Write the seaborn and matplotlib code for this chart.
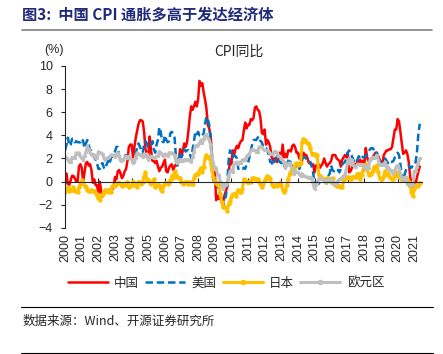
import numpy as np
import pandas as pd
import seaborn as sns
import matplotlib.pyplot as plt

# monthly CPI yoy, Jan 2000 - May 2021 (%)
china = [
    -0.2, 0.7, -0.2, -0.3, 0.1, 0.5, 0.5, 0.3, 0.0, 0.0, 1.3, 1.5,
    1.2, 0.0, 0.8, 1.6, 1.7, 1.4, 1.5, 1.0, -0.1, 0.2, -0.3, -0.3,
    -1.0, 0.0, -0.8, -1.3, -1.1, -0.8, -0.9, -0.7, -0.7, -0.8, -0.7, -0.4,
    0.4, 0.2, 0.9, 1.0, 0.7, 0.3, 0.5, 0.9, 1.1, 1.8, 3.0, 3.2,
    3.2, 2.1, 3.0, 3.8, 4.4, 5.0, 5.3, 5.3, 5.2, 4.3, 2.8, 2.4,
    1.9, 3.9, 2.7, 1.8, 1.8, 1.6, 1.8, 1.3, 0.9, 1.2, 1.3, 1.6,
    1.9, 0.9, 0.8, 1.2, 1.4, 1.5, 1.0, 1.3, 1.5, 1.4, 1.9, 2.8,
    2.2, 2.7, 3.3, 3.0, 3.4, 4.4, 5.6, 6.5, 6.2, 6.5, 6.9, 6.5,
    7.1, 8.7, 8.3, 8.5, 7.7, 7.1, 6.3, 4.9, 4.6, 4.0, 2.4, 1.2,
    1.0, -1.6, -1.2, -1.5, -1.4, -1.7, -1.8, -1.2, -0.8, -0.5, 0.6, 1.9,
    1.5, 2.7, 2.4, 2.8, 3.1, 2.9, 3.3, 3.5, 3.6, 4.4, 5.1, 4.6,
    4.9, 4.9, 5.4, 5.3, 5.5, 6.4, 6.5, 6.2, 6.1, 5.5, 4.2, 4.1,
    4.5, 3.2, 3.6, 3.4, 3.0, 2.2, 1.8, 2.0, 1.9, 1.7, 2.0, 2.5,
    2.0, 3.2, 2.1, 2.4, 2.1, 2.7, 2.7, 2.6, 3.1, 3.2, 3.0, 2.5,
    2.5, 2.0, 2.4, 1.8, 2.5, 2.3, 2.3, 2.0, 1.6, 1.6, 1.4, 1.5,
    0.8, 1.4, 1.4, 1.5, 1.2, 1.4, 1.6, 2.0, 1.6, 1.3, 1.5, 1.6,
    1.8, 2.3, 2.3, 2.3, 2.0, 1.9, 1.8, 1.3, 1.9, 2.1, 2.3, 2.1,
    2.5, 0.8, 0.9, 1.2, 1.5, 1.5, 1.4, 1.8, 1.6, 1.9, 1.7, 1.8,
    1.5, 2.9, 2.1, 1.8, 1.8, 1.9, 2.1, 2.3, 2.5, 2.5, 2.2, 1.9,
    1.7, 1.5, 2.3, 2.5, 2.7, 2.7, 2.8, 2.8, 3.0, 3.8, 4.5, 4.5,
    5.4, 5.2, 4.3, 3.3, 2.4, 2.5, 2.7, 2.4, 1.7, 0.5, -0.5, 0.2,
    -0.3, -0.2, 0.4, 0.9, 1.3,
]
usa = [
    2.7, 3.2, 3.8, 3.1, 3.2, 3.7, 3.7, 3.4, 3.5, 3.4, 3.4, 3.4,
    3.7, 3.5, 2.9, 3.3, 3.6, 3.2, 2.7, 2.7, 2.6, 2.1, 1.9, 1.6,
    1.1, 1.1, 1.5, 1.6, 1.2, 1.1, 1.5, 1.8, 1.5, 2.0, 2.2, 2.4,
    2.6, 3.0, 3.0, 2.2, 2.1, 2.1, 2.1, 2.2, 2.3, 2.0, 1.8, 1.9,
    1.9, 1.7, 1.7, 2.3, 3.1, 3.3, 3.0, 2.7, 2.5, 3.2, 3.5, 3.3,
    3.0, 3.0, 3.1, 3.5, 2.8, 2.5, 3.2, 3.6, 4.7, 4.3, 3.5, 3.4,
    4.0, 3.6, 3.4, 3.5, 4.2, 4.3, 4.1, 3.8, 2.1, 1.3, 2.0, 2.5,
    2.1, 2.4, 2.8, 2.6, 2.7, 2.7, 2.4, 2.0, 2.8, 3.5, 4.3, 4.1,
    4.3, 4.0, 4.0, 3.9, 4.2, 5.0, 5.6, 5.4, 4.9, 3.7, 1.1, 0.1,
    0.0, 0.2, -0.4, -0.7, -1.3, -1.4, -2.1, -1.5, -1.3, -0.2, 1.8, 2.7,
    2.6, 2.1, 2.3, 2.2, 2.0, 1.1, 1.2, 1.1, 1.1, 1.2, 1.1, 1.5,
    1.6, 2.1, 2.7, 3.2, 3.6, 3.6, 3.6, 3.8, 3.9, 3.5, 3.4, 3.0,
    2.9, 2.9, 2.7, 2.3, 1.7, 1.7, 1.4, 1.7, 2.0, 2.2, 1.8, 1.7,
    1.6, 2.0, 1.5, 1.1, 1.4, 1.8, 2.0, 1.5, 1.2, 1.0, 1.2, 1.5,
    1.6, 1.1, 1.5, 2.0, 2.1, 2.1, 2.0, 1.7, 1.7, 1.7, 1.3, 0.8,
    -0.1, 0.0, -0.1, -0.2, 0.0, 0.1, 0.2, 0.2, 0.0, 0.2, 0.5, 0.7,
    1.4, 1.0, 0.9, 1.1, 1.0, 1.0, 0.8, 1.1, 1.5, 1.6, 1.7, 2.1,
    2.5, 2.7, 2.4, 2.2, 1.9, 1.6, 1.7, 1.9, 2.2, 2.0, 2.2, 2.1,
    2.1, 2.2, 2.4, 2.5, 2.8, 2.9, 2.9, 2.7, 2.3, 2.5, 2.2, 1.9,
    1.6, 1.5, 1.9, 2.0, 1.8, 1.6, 1.8, 1.7, 1.7, 1.8, 2.1, 2.3,
    2.5, 2.3, 1.5, 0.3, 0.1, 0.6, 1.0, 1.3, 1.4, 1.2, 1.2, 1.4,
    1.4, 1.7, 2.6, 4.2, 5.0,
]
japan = [
    -0.9, -0.6, -0.5, -0.8, -0.7, -0.7, -0.5, -0.8, -0.8, -0.9, -0.5, -0.2,
    0.1, -0.1, -0.4, -0.5, -0.7, -0.8, -0.8, -0.7, -0.8, -0.8, -1.0, -1.2,
    -1.4, -1.6, -1.2, -1.1, -0.9, -0.7, -0.8, -0.9, -0.7, -0.9, -0.4, -0.3,
    -0.4, -0.2, -0.1, -0.1, -0.2, -0.4, -0.2, -0.3, -0.2, 0.0, -0.5, -0.4,
    -0.3, 0.0, -0.1, -0.4, -0.5, 0.0, -0.1, -0.2, 0.0, 0.5, 0.8, 0.2,
    0.1, -0.1, -0.2, 0.0, 0.2, -0.5, -0.3, -0.3, -0.3, -0.7, -0.8, -0.4,
    -0.1, -0.1, -0.2, -0.1, 0.1, 0.5, 0.3, 0.9, 0.6, 0.4, 0.3, 0.3,
    0.0, -0.2, -0.1, 0.0, 0.0, -0.2, 0.0, -0.2, -0.2, 0.3, 0.6, 0.7,
    0.7, 1.0, 1.2, 0.8, 1.3, 2.0, 2.3, 2.1, 2.1, 1.7, 1.0, 0.4,
    0.0, -0.1, -0.3, -0.1, -1.1, -1.8, -2.2, -2.2, -2.2, -2.5, -1.9, -1.7,
    -1.3, -1.1, -1.1, -1.2, -0.9, -0.7, -0.9, -0.9, -0.6, 0.2, 0.1, 0.0,
    0.0, 0.0, 0.0, 0.3, 0.3, 0.2, 0.2, 0.2, 0.0, -0.2, -0.5, -0.2,
    0.1, 0.3, 0.5, 0.4, 0.2, -0.2, -0.4, -0.4, -0.3, -0.4, -0.2, -0.1,
    -0.3, -0.7, -0.9, -0.7, -0.3, 0.2, 0.7, 0.9, 1.1, 1.1, 1.5, 1.6,
    1.4, 1.5, 1.6, 3.4, 3.7, 3.6, 3.4, 3.3, 3.2, 2.9, 2.4, 2.4,
    2.4, 2.2, 2.3, 0.6, 0.5, 0.4, 0.2, 0.2, 0.0, 0.3, 0.3, 0.2,
    0.0, 0.3, -0.1, -0.3, -0.4, -0.4, -0.4, -0.5, -0.5, 0.1, 0.5, 0.3,
    0.4, 0.3, 0.2, 0.4, 0.4, 0.4, 0.4, 0.7, 0.7, 0.2, 0.6, 1.0,
    1.4, 1.5, 1.1, 0.6, 0.7, 0.7, 0.9, 1.3, 1.2, 1.4, 0.8, 0.3,
    0.2, 0.2, 0.5, 0.9, 0.7, 0.7, 0.5, 0.3, 0.2, 0.2, 0.5, 0.8,
    0.7, 0.4, 0.4, 0.1, 0.1, 0.1, 0.3, 0.2, 0.0, -0.4, -0.9, -1.2,
    -0.6, -0.4, -0.2, -0.4, -0.1,
]
euro = [
    2.2, 2.0, 1.9, 1.7, 1.7, 2.1, 2.0, 2.0, 2.5, 2.4, 2.5, 2.2,
    2.0, 1.9, 2.2, 2.6, 3.1, 2.8, 2.5, 2.4, 2.2, 2.3, 2.0, 2.0,
    2.6, 2.5, 2.5, 2.4, 2.0, 1.9, 2.0, 2.1, 2.1, 2.3, 2.3, 2.3,
    2.1, 2.4, 2.5, 2.1, 1.8, 1.9, 1.9, 2.1, 2.2, 2.0, 2.2, 2.0,
    1.9, 1.6, 1.7, 2.0, 2.5, 2.4, 2.3, 2.3, 2.1, 2.4, 2.2, 2.4,
    1.9, 2.1, 2.2, 2.1, 2.0, 2.1, 2.2, 2.2, 2.6, 2.5, 2.3, 2.2,
    2.4, 2.3, 2.2, 2.5, 2.5, 2.5, 2.4, 2.3, 1.7, 1.6, 1.9, 1.9,
    1.8, 1.8, 1.9, 1.9, 1.9, 1.9, 1.8, 1.7, 2.1, 2.6, 3.1, 3.1,
    3.2, 3.3, 3.6, 3.3, 3.7, 4.0, 4.1, 3.8, 3.6, 3.2, 2.1, 1.6,
    1.1, 1.2, 0.6, 0.6, 0.0, -0.1, -0.6, -0.2, -0.3, -0.1, 0.5, 0.9,
    1.0, 0.8, 1.6, 1.6, 1.7, 1.5, 1.7, 1.6, 1.9, 1.9, 1.9, 2.2,
    2.3, 2.4, 2.7, 2.8, 2.7, 2.7, 2.6, 2.6, 3.0, 3.0, 3.0, 2.8,
    2.7, 2.7, 2.7, 2.6, 2.4, 2.4, 2.4, 2.6, 2.6, 2.5, 2.2, 2.2,
    2.0, 1.8, 1.7, 1.2, 1.4, 1.6, 1.6, 1.3, 1.1, 0.7, 0.9, 0.8,
    0.8, 0.7, 0.5, 0.7, 0.5, 0.5, 0.4, 0.4, 0.3, 0.4, 0.3, -0.2,
    -0.6, -0.3, -0.1, 0.2, 0.3, 0.2, 0.2, 0.1, -0.1, 0.1, 0.1, 0.2,
    0.3, -0.2, 0.0, -0.2, -0.1, 0.1, 0.2, 0.2, 0.4, 0.5, 0.6, 1.1,
    1.7, 2.0, 1.5, 1.9, 1.4, 1.3, 1.3, 1.5, 1.5, 1.4, 1.5, 1.4,
    1.3, 1.1, 1.4, 1.2, 1.9, 2.0, 2.1, 2.0, 2.1, 2.3, 1.9, 1.5,
    1.4, 1.5, 1.4, 1.7, 1.2, 1.3, 1.0, 1.0, 0.8, 0.7, 1.0, 1.3,
    1.4, 1.2, 0.7, 0.3, 0.1, 0.3, 0.4, -0.2, -0.3, -0.3, -0.3, -0.3,
    0.9, 0.9, 1.3, 1.6, 2.0,
]
years = list(range(2000, 2022))
names = ['中国', '美国', '日本', '欧元区']

months = pd.date_range('2000-01-01', periods=len(china), freq='MS')
t = months.year + (months.month - 1) / 12.0
df = pd.DataFrame({'t': t, '中国': china, '美国': usa, '日本': japan, '欧元区': euro})

sns.set_style('ticks')
plt.rcParams['font.family'] = ['Liberation Sans', 'Noto Sans CJK SC', 'DejaVu Sans']
cjk = ['Noto Sans CJK SC', 'DejaVu Sans']

fig = plt.figure(figsize=(4.43, 3.54), dpi=100)
ax = fig.add_axes([0.147, 0.356, 0.805, 0.458])

styles = {
    '中国': dict(color='#FF0000', lw=1.8),
    '美国': dict(color='#0070C0', lw=1.8, ls=(0, (3, 1.5))),
    '日本': dict(color='#FFC000', lw=2.2, marker='o', ms=3.2, mew=0),
    '欧元区': dict(color='#BFBFBF', lw=2.2, marker='o', ms=2.4, mew=0),
}
for nm in names:
    sns.lineplot(data=df, x='t', y=nm, ax=ax, label=nm, **styles[nm])

ax.set_xlim(2000, 2021.45)
ax.set_ylim(-4, 10)
ax.set_yticks(range(-4, 11, 2))
ax.tick_params(axis='y', labelsize=9, length=3, width=0.8, pad=6)
ax.set_xlabel('')
ax.set_ylabel('')

# zero line carries the small tick marks
ax.spines['bottom'].set_position(('data', 0))
ax.spines['top'].set_visible(False)
ax.spines['right'].set_visible(False)
ax.spines['left'].set_linewidth(0.8)
ax.spines['bottom'].set_linewidth(0.8)
ax.set_xticks(years)
ax.tick_params(axis='x', direction='in', length=3, width=0.8, labelbottom=False)

# year labels sit below the plot
sec = ax.secondary_xaxis('bottom')
sec.spines['bottom'].set_visible(False)
sec.set_xticks(years)
sec.set_xticklabels([str(y) for y in years], rotation=90)
sec.tick_params(length=0, labelsize=9, pad=4)
sec.set_xlabel('')

ax.get_legend().remove()
handles, labels = ax.get_legend_handles_labels()
leg = fig.legend(handles, labels, loc='center', bbox_to_anchor=(0.51, 0.2), ncol=4,
                 frameon=False, handlelength=3.2, columnspacing=0.5, handletextpad=0.5,
                 prop={'family': cjk, 'size': 9})
for h in leg.legend_handles:
    h.set_markevery([1])
    h.set_markersize(4)

fig.text(0.54, 0.855, 'CPI同比', ha='center', va='center', fontsize=10, family=cjk)
fig.text(0.10, 0.86, '(%)', ha='left', va='center', fontsize=9)

fig.text(0.05, 0.958, '图3:  中国 CPI 通胀多高于发达经济体', ha='left', va='center',
         fontsize=11, fontweight='bold', color='#1F2A78', family=cjk)
fig.add_artist(plt.Line2D([0.05, 0.975], [0.915, 0.915], color='#808080', lw=1.2))
fig.add_artist(plt.Line2D([0.048, 0.978], [0.133, 0.133], color='black', lw=0.8))
fig.text(0.05, 0.093, '数据来源：Wind、开源证券研究所', ha='left', va='center',
         fontsize=9, family=cjk)
fig.add_artist(plt.Line2D([0.048, 0.978], [0.004, 0.004], color='black', lw=0.8))

fig.savefig('out.png', dpi=100)
